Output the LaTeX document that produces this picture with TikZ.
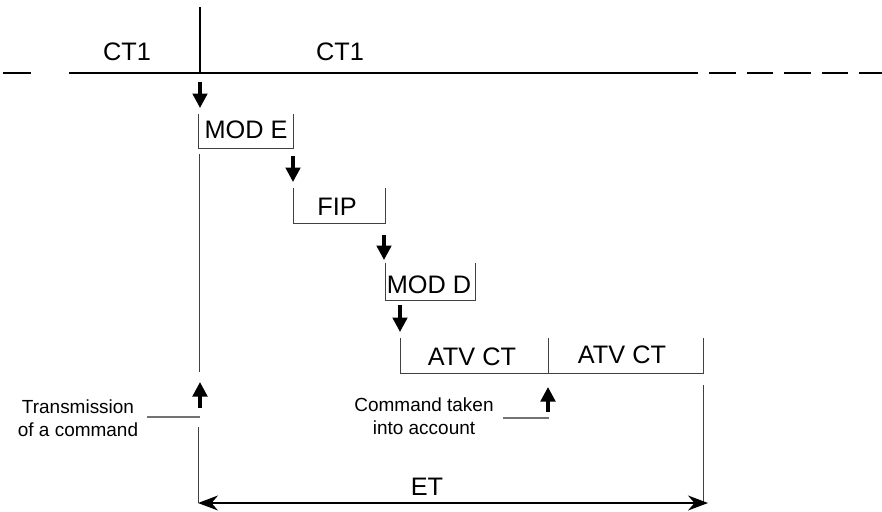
\documentclass[tikz,border=0pt]{standalone}
\usepackage{fontspec}
\setmainfont{Liberation Sans}
\usepackage{tikz}
\usetikzlibrary{arrows.meta,positioning}

\begin{document}
\begin{tikzpicture}[
x=0.02cm,
y=-0.02cm,
every node/.style={font=\fontsize{14.4}{17}\selectfont,inner sep=0pt},
note/.style={font=\fontsize{10.8}{13}\selectfont,align=center,inner sep=0pt},
axis/.style={line width=1.2pt},
bar/.style={draw=black!75,line width=0.55pt},
lead/.style={draw=black!55,line width=0.6pt},
flag/.style={-{Triangle[length=2.9mm,width=2.9mm]},line width=1.9pt},
span/.style={{Stealth[length=4mm,width=3mm]}-{Stealth[length=4mm,width=3mm]},line width=0.6pt}
]
\useasboundingbox (0,0) rectangle (882,511);

\node[anchor=base] (ct1prev) at (127,60) {CT1};
\node[anchor=base] (ct1next) at (340,60) {CT1};
\node[anchor=base] (mode) at (246,138) {MOD E};
\node[anchor=base] (fip) at (337,215) {FIP};
\node[anchor=base] (modd) at (429,293) {MOD D};
\node[anchor=base] (atvfirst) at (472,365) {ATV CT};
\node[anchor=base] (atvsecond) at (622,363) {ATV CT};
\node[anchor=base] (et) at (427,495) {ET};
\node[note] (trans) at (78,418) {Transmission\\of a command};
\node[note] (taken) at (424,416) {Command taken\\into account};

\coordinate (send) at (200,73);
\coordinate (etleft) at (198,503);
\coordinate (etright) at (708,503);

% cycle axis
\draw[axis] (3,73) -- (31,73);
\draw[axis] (69,73) -- (send) -- (672,73);
\draw[axis,dash pattern=on 15pt off 6.3pt] (672,73) -- (882,73);
\draw[axis] (200,7) -- (send);

% processing steps
\draw[bar] (198,114) -- (198,148) -- (293,148) -- (293,114);
\draw[bar] (293,188) -- (293,223) -- (385,223) -- (385,188);
\draw[bar] (385,263) -- (385,300) -- (475,300) -- (475,263);
\draw[bar] (400,338) -- (400,373) -- (703,373) -- (703,338);
\draw[bar] (548,338) -- (548,373);
\draw[bar] (199,154) -- (199,372);

\draw[flag] (200,82) -- ++(0,26);
\draw[flag] (293,156) -- ++(0,26);
\draw[flag] (384,235) -- ++(0,25);
\draw[flag] (400,305) -- ++(0,27);
\draw[flag] (200,408) -- ++(0,-26);
\draw[flag] (548,412) -- ++(0,-25);

\draw[lead] (147,417) -- (200,417);
\draw[lead] (503,418) -- (549,418);

% execution time
\draw[bar] (198,427) -- (etleft);
\draw[bar] (703,385) -- (703,503);
\draw[span] (etleft) -- (etright);
\end{tikzpicture}
\end{document}
